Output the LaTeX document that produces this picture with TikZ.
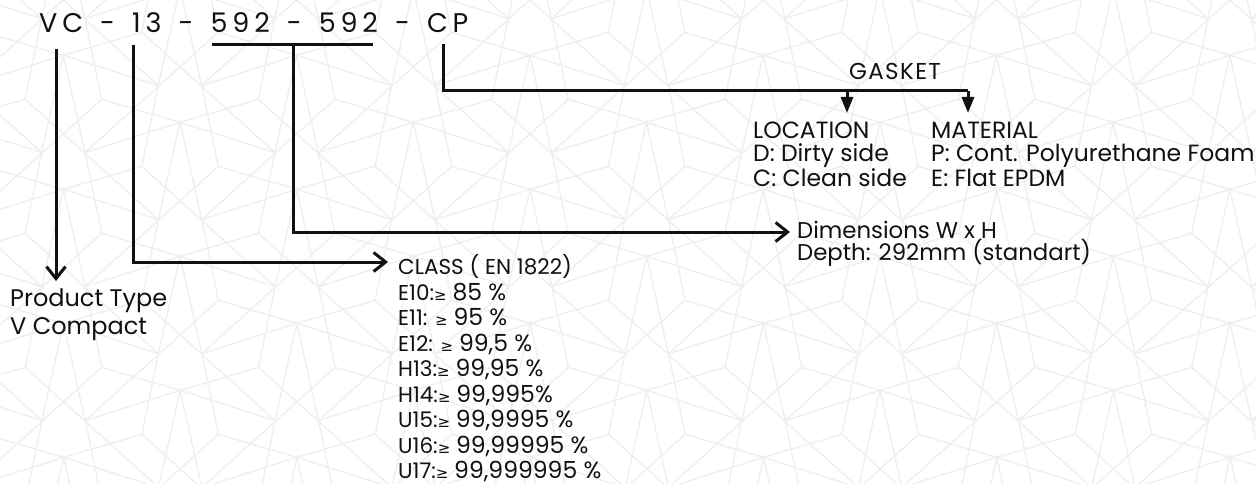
\documentclass[tikz,border=0pt]{standalone}
\usepackage{fontspec}
\setmainfont{Poppins}
\newfontfamily\symfont{DejaVu Sans}
\newfontfamily\codefam[LetterSpace=18]{Poppins}
\usetikzlibrary{arrows.meta}
\definecolor{ink}{HTML}{111111}
\definecolor{patgray}{HTML}{EFEFEF}
\newcommand\gesym{{\symfont\fontsize{15}{15}\selectfont ≥}}
\newcommand\val[1]{{\fontsize{23.5}{25.6}\selectfont #1}}
\newlength\codespace
\newcommand\codefont{\codefam\fontsize{27}{30}\selectfont
  \setlength\codespace{\fontdimen2\font}\addtolength\codespace{5pt}%
  \spaceskip\codespace}
\begin{document}
\begin{tikzpicture}[x=1pt,y=-1pt,
  pat/.style={draw=patgray, line width=1.4pt},
  conn/.style={draw=ink, line width=3pt, line join=miter},
  barb/.style={conn, -{Straight Barb[length=12pt,width=19pt]}},
  tri/.style={conn, -{Triangle[length=16pt,width=12pt]}},
  txt/.style={text=ink, inner sep=0pt, anchor=base west, align=left}]
\useasboundingbox (0,0) rectangle (1256,484);
\fill[white] (0,0) rectangle (1256,484);
% background pattern
\begin{scope}
\clip (0,0) rectangle (1256,484);
\foreach \j in {-6,...,3}{\foreach \i in {-7,...,5}{
  \pgfmathsetmacro\sx{996.7+233.3*\i+116.7*\j}
  \pgfmathsetmacro\sy{323.3+67*\j}
  \begin{scope}[shift={(\sx,\sy)}]
   \draw[pat] (-95,30.3) -- (0,0) -- (95,30.3);
   \draw[pat] (-78.4,-23) -- (0,0) -- (78.4,-23);
   \draw[pat] (-21.7,97.3) -- (0,0) -- (21.7,97.3);
   \draw[pat] (-21.7,-36.7) -- (-38.3,44);
   \draw[pat] (21.7,-36.7) -- (38.3,44);
   \draw[pat] (-95,30.3) -- (38.3,-90);
   \draw[pat] (95,30.3) -- (-38.3,-90);
  \end{scope}
}}
\end{scope}
% code
\node[txt, font=\codefont] (code) at (39,33) {VC - 13 - 592 - 592 - CP};
% text blocks
\node[txt, font=\fontsize{24}{28}\selectfont] (prod) at (10,334) {Product Type\\V Compact};
\node[txt, font=\fontsize{21.5}{25.45}\selectfont] (class) at (398,478.5) {CLASS ( EN 1822)\\
E10:\gesym\ \val{85 \%}\\
E11: \gesym\ \val{95 \%}\\
E12: \gesym\ \val{99,5 \%}\\
H13:\gesym\ \val{99,95 \%}\\
H14:\gesym\ \val{99,995\%}\\
U15:\gesym\ \val{99,9995 \%}\\
U16:\gesym\ \val{99,99995 \%}\\
U17:\gesym\ \val{99,999995 \%}};
\node[txt, font=\fontsize{22.8}{22.5}\selectfont] (dim) at (797,260.5) {Dimensions W x H\\Depth: 292mm (standart)};
\node[txt, anchor=base, font=\fontsize{23}{23}\selectfont\addfontfeature{LetterSpace=6}] (gasket) at (895,80) {GASKET};
\node[txt, font=\fontsize{23.5}{23}\selectfont] (loc) at (753,186) {LOCATION\\D: Dirty side\\C: Clean side};
\node[txt, font=\fontsize{23.5}{23}\selectfont] (mat) at (931,186) {MATERIAL\\P: Cont. Polyurethane Foam\\E: Flat EPDM};
% taps and tips
\coordinate (vcTop) at (56,49);
\coordinate (vcTip) at (56,281);
\coordinate (ntTop) at (133,45);
\coordinate (ntTip) at (388,262);
\coordinate (ulL) at (212,45);
\coordinate (ulR) at (373,45);
\coordinate (dmTop) at (293,45);
\coordinate (dmTip) at (790,232);
\coordinate (cpTop) at (443,44);
\coordinate (cpBend) at (443,91);
\coordinate (locTap) at (847,91);
\coordinate (locTip) at (847,113);
\coordinate (matCorner) at (968,91);
\coordinate (matTip) at (968,113);
\draw[conn] (ulL) -- (ulR);
\draw[barb] (vcTop) -- (vcTip);
\draw[barb] (ntTop) |- (ntTip);
\draw[barb] (dmTop) |- (dmTip);
\draw[conn] (cpTop) -- (cpBend) -- (matCorner);
\draw[tri] (matCorner) -- (matTip);
\draw[tri] (locTap) -- (locTip);
\end{tikzpicture}
\end{document}
